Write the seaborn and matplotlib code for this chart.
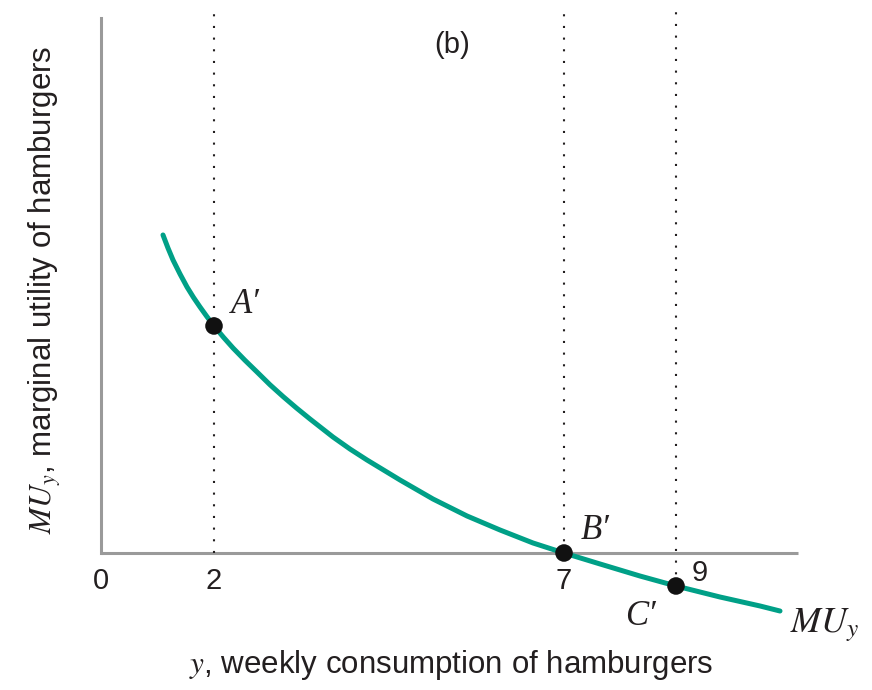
import matplotlib
matplotlib.use("Agg")
import matplotlib.pyplot as plt
import seaborn as sns
import pandas as pd

# ---- data (schematic units) ----
curve_x = [1.107, 1.196, 1.286, 1.411, 1.536, 1.652, 1.768, 1.893, 2.018, 2.188, 2.357,
           2.571, 2.786, 3.018, 3.250, 3.491, 3.732, 4.143, 4.446, 4.750, 5.339, 5.929,
           6.536, 7.125, 7.714, 8.268, 8.911, 9.625, 10.268, 11.054, 11.768, 12.125]
curve_y = [5.679, 5.446, 5.232, 4.982, 4.750, 4.563, 4.393, 4.219, 4.054, 3.851, 3.661,
           3.441, 3.232, 3.004, 2.795, 2.589, 2.393, 2.071, 1.857, 1.661, 1.304, 0.964,
           0.661, 0.411, 0.179, 0.000, -0.196, -0.411, -0.589, -0.786, -0.946, -1.036]
point_names = ["A\u2032", "B\u2032", "C\u2032"]
point_x = [2.018, 8.268, 10.268]
point_y = [4.054, 0.000, -0.589]
tick_pos = [0.0, 2.018, 8.268, 10.268]
tick_labels = ["0", "2", "7", "9"]

sns.set_theme(style="white")
plt.rcParams["font.family"] = ["Liberation Sans", "DejaVu Sans"]
plt.rcParams["mathtext.fontset"] = "stix"

teal = "#00A087"
grey = "#9a9a9a"
ink = "#231f20"

fig = plt.figure(figsize=(8.72, 6.90), dpi=100)
ax = fig.add_axes([101 / 872, 1 - 630 / 690, (830 - 101) / 872, 625 / 690])
ax.set_xlim(0, (830 - 101) / 56)
ax.set_ylim((553 - 630) / 56, (553 - 5) / 56)

for s in ["top", "right", "bottom"]:
    ax.spines[s].set_visible(False)
ax.spines["left"].set_color(grey)
ax.spines["left"].set_linewidth(2.2)
ax.spines["left"].set_bounds(0, (553 - 18) / 56)
ax.set_xticks([])
ax.set_yticks([])
ax.plot([0, (798 - 101) / 56], [0, 0], color=grey, lw=2.2, solid_capstyle="butt", zorder=1)

# dotted guides
tops = [(553 - 12) / 56, (553 - 10) / 56, (553 - 8) / 56]
for x, y, t in zip(point_x, point_y, tops):
    ax.plot([x, x], [min(0, y), t], color=ink, lw=1.5,
            linestyle=(0, (1, 4.6)), zorder=1)

df = pd.DataFrame({"x": curve_x, "y": curve_y})
sns.lineplot(data=df, x="x", y="y", ax=ax, color=teal, lw=3.6, sort=False, zorder=2)
pts = pd.DataFrame({"x": point_x, "y": point_y, "name": point_names})
sns.scatterplot(data=pts, x="x", y="y", ax=ax, color="#111111", s=160,
                edgecolor="none", zorder=3, legend=False)
ax.set_xlabel("")
ax.set_ylabel("")

serif_it = dict(family=["Liberation Serif", "DejaVu Serif"], style="italic", fontsize=25, color=ink)
# point labels
ax.text(point_x[0] + 0.30, point_y[0] + 0.38, point_names[0], ha="left", va="center", **serif_it)
ax.text(point_x[1] + 0.30, point_y[1] + 0.40, point_names[1], ha="left", va="center", **serif_it)
ax.text(point_x[2] - 0.64, point_y[2] - 0.55, point_names[2], ha="center", va="center", **serif_it)
ax.text(curve_x[-1] + 0.17, curve_y[-1] - 0.25, r"$MU_y$", fontsize=26, ha="left",
        va="center", clip_on=False, color=ink)

# tick labels
for p, lab in zip(tick_pos[:3], tick_labels[:3]):
    ax.text(p, -0.5, lab, fontsize=21, ha="center", va="center", color=ink)
ax.text(tick_pos[3] + 0.43, -0.36, tick_labels[3], fontsize=21, ha="center", va="center", color=ink)

ax.text(6.27, 9.07, "(b)", fontsize=21, ha="center", va="center", color=ink)

fig.text(451 / 872, 1 - 665 / 690, r"$y$, weekly consumption of hamburgers",
         fontsize=22.5, ha="center", va="center", color=ink)
fig.text(45 / 872, 1 - 290 / 690, r"$MU_y$, marginal utility of hamburgers",
         fontsize=22.5, ha="center", va="center", rotation=90, color=ink)

fig.savefig("out.png", dpi=100)
